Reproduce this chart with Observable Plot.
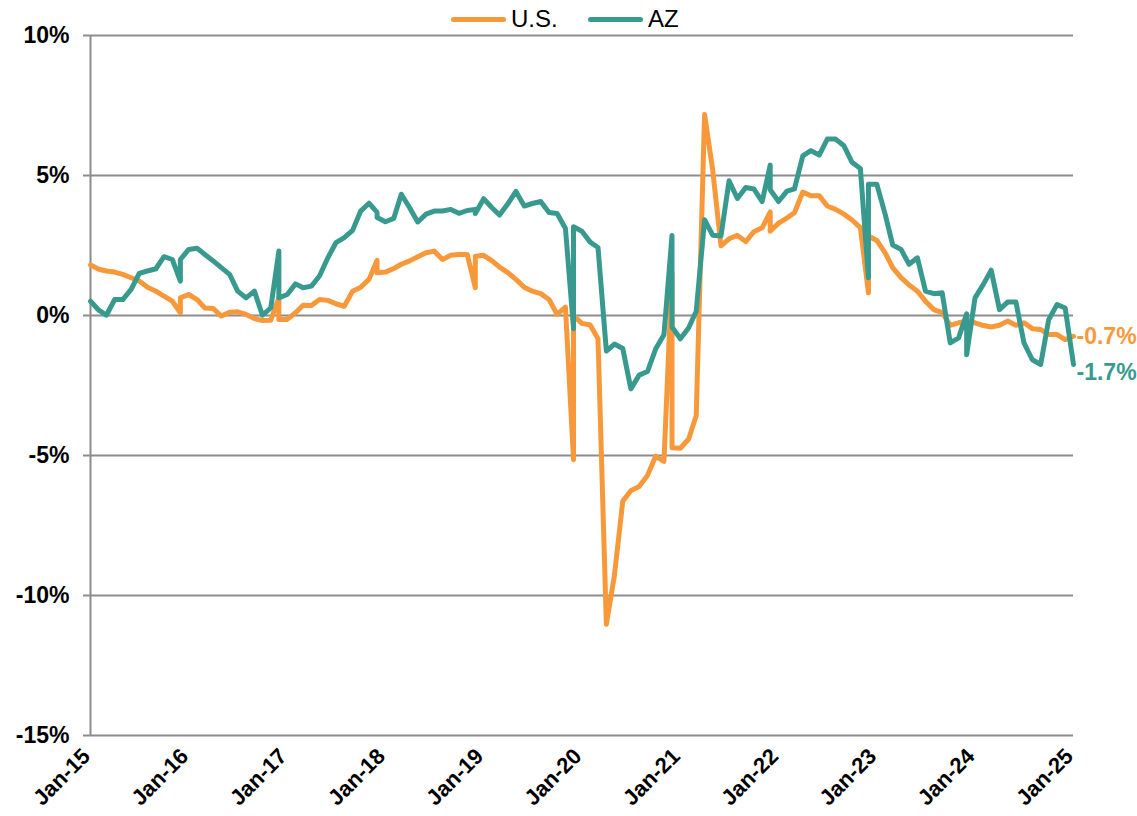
<!DOCTYPE html>
<html>
<head>
<meta charset="utf-8">
<script src="https://cdn.jsdelivr.net/npm/d3@7"></script>
<script src="https://cdn.jsdelivr.net/npm/@observablehq/plot@0.6"></script>
<style>
  html, body { margin: 0; padding: 0; background: #fff; }
  #wrap { position: relative; width: 1137px; height: 816px; font-family: "Liberation Sans", Arial, sans-serif; }
  #chart { position: absolute; left: 0; top: 0; }
  .leg { position: absolute; top: 4px; height: 30px; display: flex; align-items: center; font-size: 24px; color: #000; }
  .sw { display: inline-block; width: 55px; height: 5px; border-radius: 3px; margin-right: 5px; }
</style>
</head>
<body>
<div id="wrap">
  <div id="chart"></div>
  <div class="leg" style="left:451px"><span class="sw" style="background:#F7993A"></span>U.S.</div>
  <div class="leg" style="left:588px"><span class="sw" style="background:#389A8E"></span>AZ</div>
</div>
<script>
// Month of each observation (December appears twice: prior and revised vintage)
const months = [
  "2015-01","2015-02","2015-03","2015-04","2015-05","2015-06","2015-07","2015-08","2015-09","2015-10","2015-11","2015-12","2015-12",
  "2016-01","2016-02","2016-03","2016-04","2016-05","2016-06","2016-07","2016-08","2016-09","2016-10","2016-11","2016-12","2016-12",
  "2017-01","2017-02","2017-03","2017-04","2017-05","2017-06","2017-07","2017-08","2017-09","2017-10","2017-11","2017-12","2017-12",
  "2018-01","2018-02","2018-03","2018-04","2018-05","2018-06","2018-07","2018-08","2018-09","2018-10","2018-11","2018-12","2018-12",
  "2019-01","2019-02","2019-03","2019-04","2019-05","2019-06","2019-07","2019-08","2019-09","2019-10","2019-11","2019-12","2019-12",
  "2020-01","2020-02","2020-03","2020-04","2020-05","2020-06","2020-07","2020-08","2020-09","2020-10","2020-11","2020-12","2020-12",
  "2021-01","2021-02","2021-03","2021-04","2021-05","2021-06","2021-07","2021-08","2021-09","2021-10","2021-11","2021-12","2021-12",
  "2022-01","2022-02","2022-03","2022-04","2022-05","2022-06","2022-07","2022-08","2022-09","2022-10","2022-11","2022-12","2022-12",
  "2023-01","2023-02","2023-03","2023-04","2023-05","2023-06","2023-07","2023-08","2023-09","2023-10","2023-11","2023-12","2023-12",
  "2024-01","2024-02","2024-03","2024-04","2024-05","2024-06","2024-07","2024-08","2024-09","2024-10","2024-11","2024-12",
  "2025-01"
];

// U.S. year-over-year change, %
const usValues = [
  1.80,1.65,1.59,1.55,1.47,1.35,1.23,1.01,0.87,0.69,0.51,0.10,0.63,
  0.75,0.57,0.27,0.25,-0.02,0.12,0.13,0.04,-0.11,-0.18,-0.17,0.63,-0.14,
  -0.14,0.10,0.37,0.36,0.57,0.54,0.42,0.33,0.87,1.01,1.29,1.97,1.53,
  1.55,1.68,1.83,1.95,2.10,2.24,2.30,2.00,2.15,2.18,2.18,0.99,2.12,
  2.15,1.95,1.73,1.53,1.29,1.01,0.87,0.78,0.57,0.04,0.30,-5.15,0.00,
  -0.28,-0.34,-0.83,-11.03,-9.28,-6.63,-6.26,-6.11,-5.71,-5.03,-5.21,1.50,-4.72,
  -4.74,-4.41,-3.57,7.18,5.21,2.49,2.74,2.86,2.64,2.99,3.13,3.70,3.01,
  3.30,3.48,3.67,4.41,4.28,4.28,3.91,3.79,3.62,3.41,3.14,0.81,2.84,
  2.68,2.24,1.71,1.35,1.09,0.87,0.51,0.21,0.10,-0.35,-0.26,-0.20,-0.22,
  -0.26,-0.36,-0.41,-0.35,-0.20,-0.35,-0.26,-0.47,-0.50,-0.68,-0.68,-0.86,
  -0.74
];

// Arizona year-over-year change, %
const azValues = [
  0.51,0.19,0.01,0.57,0.57,0.93,1.50,1.59,1.67,2.10,2.00,1.23,2.00,
  2.36,2.40,2.18,1.95,1.71,1.47,0.87,0.63,0.87,0.01,0.27,2.30,0.63,
  0.75,1.13,0.99,1.05,1.41,2.06,2.60,2.78,3.04,3.73,4.01,3.68,3.50,
  3.35,3.47,4.33,3.85,3.34,3.62,3.73,3.73,3.79,3.65,3.75,3.79,3.64,
  4.17,3.85,3.59,3.99,4.43,3.91,4.00,4.07,3.68,3.64,3.11,-0.47,3.17,
  3.01,2.62,2.43,-1.27,-1.02,-1.18,-2.62,-2.13,-2.00,-1.20,-0.69,2.86,-0.41,
  -0.83,-0.44,0.15,3.42,2.87,2.84,4.81,4.18,4.57,4.52,4.07,5.37,4.49,
  4.07,4.44,4.52,5.70,5.89,5.73,6.30,6.30,6.06,5.47,5.25,1.35,4.69,
  4.69,3.62,2.52,2.36,1.83,2.06,0.87,0.78,0.81,-0.98,-0.80,0.06,-1.40,
  0.63,1.11,1.62,0.21,0.48,0.48,-0.98,-1.58,-1.75,-0.14,0.39,0.27,
  -1.75
];

const seriesNames = ["U.S.", "AZ"];
const seriesColors = ["#F7993A", "#389A8E"];
const yTicks = [-15, -10, -5, 0, 5, 10];
const xTickLabels = ["Jan-15","Jan-16","Jan-17","Jan-18","Jan-19","Jan-20","Jan-21","Jan-22","Jan-23","Jan-24","Jan-25"];
const endLabels = ["-0.7%", "-1.7%"];

const parse = d3.utcParse("%Y-%m");
const xTicks = xTickLabels.map(s => d3.utcParse("%b-%y")(s));
const us = months.map((m, i) => ({date: parse(m), value: usValues[i]}));
const az = months.map((m, i) => ({date: parse(m), value: azValues[i]}));
const usLast = [{date: us[us.length - 1].date, value: us[us.length - 1].value, label: endLabels[0]}];
const azLast = [{date: az[az.length - 1].date, value: az[az.length - 1].value, label: endLabels[1]}];

const FONT = "'Liberation Sans', Arial, sans-serif";
const chart = Plot.plot({
  width: 1137,
  height: 816,
  marginLeft: 90,
  marginRight: 64,
  marginTop: 35,
  marginBottom: 81,
  style: {fontFamily: FONT, background: "#fff", color: "#000"},
  x: {type: "utc", domain: [xTicks[0], xTicks[xTicks.length - 1]]},
  y: {domain: [-15, 10]},
  marks: [
    Plot.ruleY(yTicks, {stroke: "#8c8c8c", strokeWidth: 2}),
    Plot.ruleX([xTicks[0]], {stroke: "#8c8c8c", strokeWidth: 2}),
    Plot.axisY({ticks: yTicks, tickFormat: d => d + "%", tickSize: 7, tickPadding: 14,
      stroke: "#8c8c8c", strokeWidth: 2, fill: "#000", fontSize: 23, fontWeight: "bold", label: null}),
    Plot.axisX({ticks: xTicks, tickFormat: d3.utcFormat("%b-%y"), tickSize: 0, tickPadding: 17, tickRotate: -45,
      dx: -4, fill: "#000", fontSize: 22, fontWeight: "bold", label: null}),
    Plot.line(us, {x: "date", y: "value", stroke: seriesColors[0], strokeWidth: 5, strokeLinejoin: "round", strokeLinecap: "round"}),
    Plot.line(az, {x: "date", y: "value", stroke: seriesColors[1], strokeWidth: 5, strokeLinejoin: "round", strokeLinecap: "round"}),
    Plot.text(usLast, {x: "date", y: "value", text: "label", fill: seriesColors[0], dx: 3, dy: 0, textAnchor: "start",
      fontSize: 23, fontWeight: "bold"}),
    Plot.text(azLast, {x: "date", y: "value", text: "label", fill: seriesColors[1], dx: 3, dy: 8, textAnchor: "start",
      fontSize: 23, fontWeight: "bold"})
  ]
});
document.getElementById("chart").appendChild(chart);
</script>
</body>
</html>
